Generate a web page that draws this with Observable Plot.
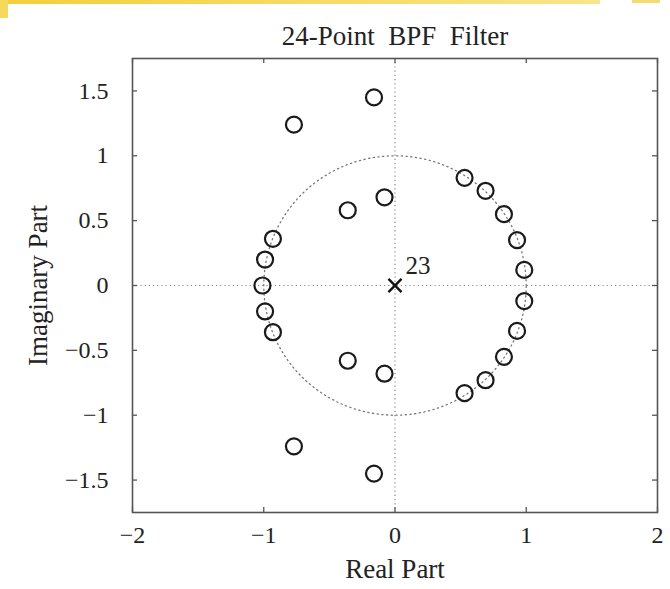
<!DOCTYPE html>
<html>
<head>
<meta charset="utf-8">
<script src="https://cdn.jsdelivr.net/npm/d3@7"></script>
<script src="https://cdn.jsdelivr.net/npm/@observablehq/plot@0.6"></script>
<style>
  html, body { margin: 0; padding: 0; background: #fff; }
  #wrap { position: relative; width: 670px; height: 589px; }
  .scan-top { position: absolute; left: 0; top: 0; width: 600px; height: 4px;
    background: linear-gradient(90deg, #f3cf3a, #f7dc6a 60%, #f9e48a); }
  .scan-left { position: absolute; left: 0; top: 0; width: 8px; height: 18px; background: #f6d85a; }
  .scan-right { position: absolute; left: 632px; top: 0; width: 28px; height: 3px; background: #f6dc70; }
</style>
</head>
<body>
<div id="wrap">
  <div class="scan-top"></div><div class="scan-left"></div><div class="scan-right"></div>
  <div id="chart"></div>
</div>
<script>
// Zeros (real, imaginary)
const zeroRe = [-0.16, -0.77, 0.53, 0.69, 0.83, 0.93, 0.985, -0.08, -0.36, -0.93, -0.99, -1.01,
                -0.99, -0.93, -0.36, -0.08, 0.985, 0.93, 0.83, 0.69, 0.53, -0.77, -0.16];
const zeroIm = [1.45, 1.24, 0.83, 0.73, 0.55, 0.35, 0.12, 0.68, 0.58, 0.36, 0.2, 0,
                -0.2, -0.36, -0.58, -0.68, -0.12, -0.35, -0.55, -0.73, -0.83, -1.24, -1.45];
// Pole at origin, order 23
const poleRe = [0];
const poleIm = [0];
const poleOrder = ["23"];

const xTicks = [-2, -1, 0, 1, 2];
const yTicks = [-1.5, -1, -0.5, 0, 0.5, 1, 1.5];
const title = "24-Point\u00a0\u00a0BPF\u00a0\u00a0Filter";
const xLabel = "Real Part";
const yLabel = "Imaginary Part";

const zeros = zeroRe.map((re, i) => ({re, im: zeroIm[i]}));
const poles = poleRe.map((re, i) => ({re, im: poleIm[i], order: poleOrder[i]}));
// unit circle reference guide
const unitCircle = d3.range(0, 361, 3).map(a => ({re: Math.cos(a * Math.PI / 180), im: Math.sin(a * Math.PI / 180)}));

const W = 670, H = 589;
const mT = 58, mB = 77, mL = 132, mR = 13;
const innerH = H - mT - mB, innerW = W - mL - mR;
const tickLen = 5;
const font = "'Liberation Serif', 'Times New Roman', serif";
const fmt = d => (d < 0 ? "\u2212" : "") + String(Math.abs(d));

const chart = Plot.plot({
  width: W, height: H,
  marginTop: mT, marginBottom: mB, marginLeft: mL, marginRight: mR,
  style: {fontFamily: font, fontSize: "24px", color: "#222", background: "transparent"},
  x: {domain: [-2, 2]},
  y: {domain: [-1.75, 1.75]},
  marks: [
    Plot.ruleX([0], {stroke: "#888", strokeDasharray: "1.2,3", strokeWidth: 1.2}),
    Plot.ruleY([0], {stroke: "#888", strokeDasharray: "1.2,3", strokeWidth: 1.2}),
    Plot.line(unitCircle, {x: "re", y: "im", stroke: "#777", strokeDasharray: "1.2,3.5", strokeWidth: 1.3, curve: "linear"}),
    // inward ticks on all four sides
    Plot.tickX(xTicks, {x: d => d, insetTop: innerH - tickLen, stroke: "#555", strokeWidth: 1.3}),
    Plot.tickX(xTicks, {x: d => d, insetBottom: innerH - tickLen, stroke: "#555", strokeWidth: 1.3}),
    Plot.tickY(yTicks, {y: d => d, insetRight: innerW - tickLen, stroke: "#555", strokeWidth: 1.3}),
    Plot.tickY(yTicks, {y: d => d, insetLeft: innerW - tickLen, stroke: "#555", strokeWidth: 1.3}),
    Plot.axisX(xTicks, {tickSize: 0, tickPadding: 13, label: null, fontSize: 24, tickFormat: fmt}),
    Plot.axisY(yTicks, {tickSize: 0, tickPadding: 24, label: null, fontSize: 24, tickFormat: fmt}),
    Plot.frame({stroke: "#555", strokeWidth: 1.6}),
    Plot.dot(zeros, {x: "re", y: "im", r: 8, stroke: "#1a1a1a", strokeWidth: 2.2, fill: "none"}),
    Plot.dot(poles, {x: "re", y: "im", symbol: "times", r: 6, stroke: "#111", strokeWidth: 2.4}),
    Plot.text(poles, {x: "re", y: "im", text: "order", dx: 23, dy: -20, fontSize: 25, fill: "#222"}),
    Plot.text([title], {frameAnchor: "top", dy: -33, fontSize: 27, fill: "#222"}),
    Plot.text([xLabel], {frameAnchor: "bottom", dy: 65, fontSize: 27, fill: "#222"}),
    Plot.text([yLabel], {frameAnchor: "left", textAnchor: "middle", dx: -94, rotate: -90, fontSize: 27, fill: "#222"})
  ]
});
document.getElementById("chart").appendChild(chart);
</script>
</body>
</html>
